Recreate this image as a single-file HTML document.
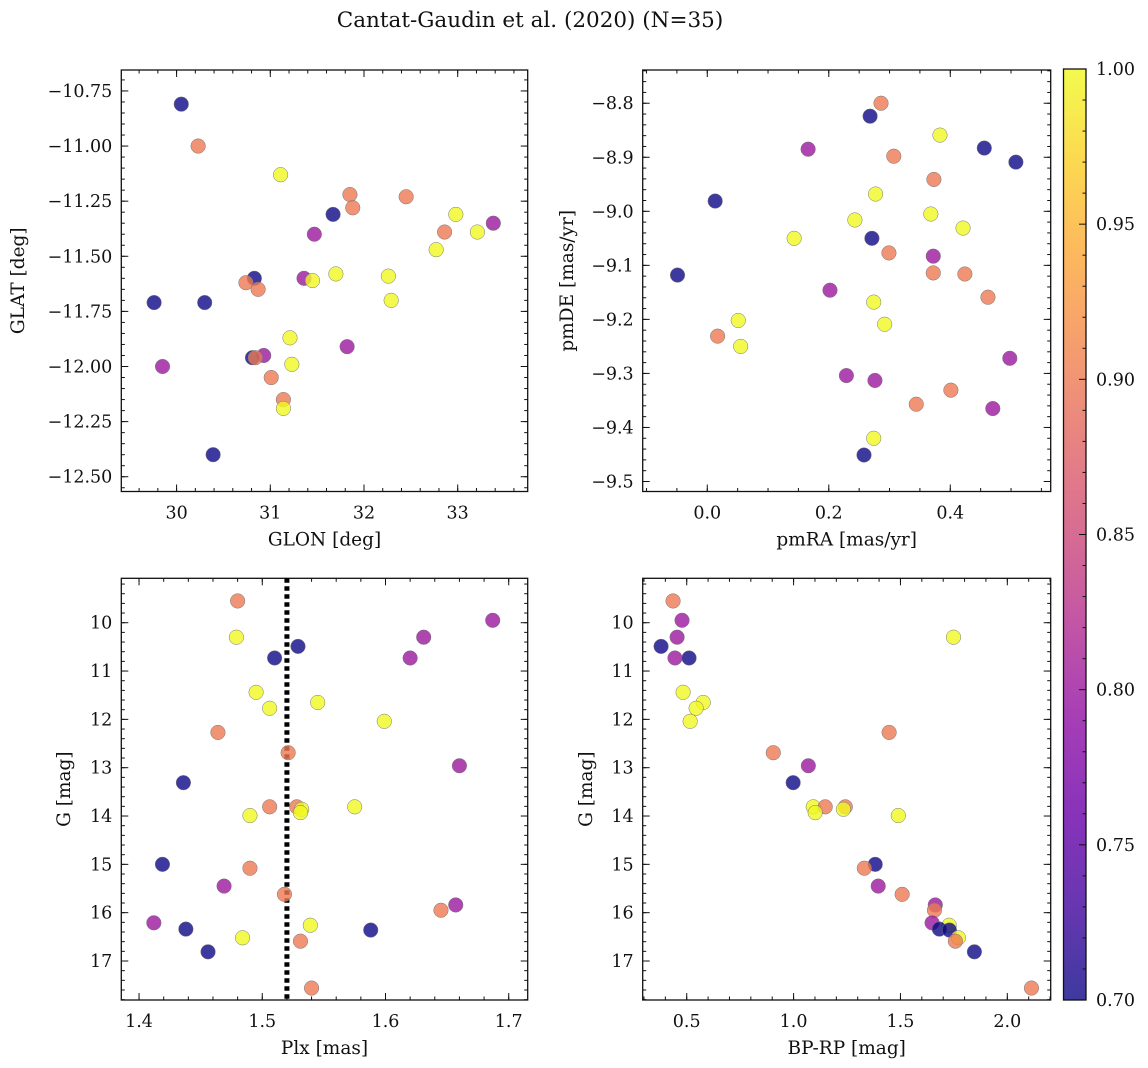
<!DOCTYPE html>
<html><head><meta charset="utf-8"><style>
html,body{margin:0;padding:0;background:#fff;}
svg{display:block;font-family:"DejaVu Serif","Liberation Serif",serif;}
</style></head><body>
<svg id="fig" width="1148" height="1068" viewBox="0 0 1148 1068">
<text x="530" y="27" text-anchor="middle" font-size="21.5" fill="#111">Cantat-Gaudin et al. (2020) (N=35)</text>
</svg>
<script>
// ---- data ----
const glon = [30.05,30.23,31.11,31.85,32.45,31.88,31.67,32.98,33.38,33.21,32.86,31.47,32.77,31.70,32.26,31.36,31.45,30.83,30.74,30.87,29.76,30.30,32.29,31.21,31.82,30.93,30.81,30.84,31.23,29.85,31.01,31.14,31.14,30.39];
const glat = [-10.81,-11.00,-11.13,-11.22,-11.23,-11.28,-11.31,-11.31,-11.35,-11.39,-11.39,-11.40,-11.47,-11.58,-11.59,-11.60,-11.61,-11.60,-11.62,-11.65,-11.71,-11.71,-11.70,-11.87,-11.91,-11.95,-11.96,-11.96,-11.99,-12.00,-12.05,-12.15,-12.19,-12.40];
const probA = [0.7,0.9,1.0,0.9,0.9,0.9,0.7,1.0,0.8,1.0,0.9,0.8,1.0,1.0,1.0,0.8,1.0,0.7,0.9,0.9,0.7,0.7,1.0,1.0,0.8,0.8,0.7,0.9,1.0,0.8,0.9,0.9,1.0,0.7];

const pmra = [0.286,0.268,0.383,0.166,0.456,0.508,0.307,0.373,0.277,0.013,0.243,0.368,0.421,0.143,0.271,0.299,0.372,-0.049,0.372,0.424,0.202,0.462,0.274,0.051,0.292,0.017,0.055,0.498,0.229,0.276,0.401,0.344,0.470,0.274,0.258];
const pmde = [-8.800,-8.824,-8.859,-8.885,-8.883,-8.909,-8.898,-8.941,-8.968,-8.981,-9.016,-9.005,-9.031,-9.050,-9.050,-9.077,-9.083,-9.118,-9.114,-9.116,-9.146,-9.159,-9.168,-9.202,-9.209,-9.231,-9.250,-9.272,-9.304,-9.313,-9.331,-9.357,-9.365,-9.420,-9.451];
const probB = [0.9,0.7,1.0,0.8,0.7,0.7,0.9,0.9,1.0,0.7,1.0,1.0,1.0,1.0,0.7,0.9,0.8,0.7,0.9,0.9,0.8,0.9,1.0,1.0,1.0,0.9,1.0,0.8,0.8,0.8,0.9,0.9,0.8,1.0,0.7];

const plx = [1.480,1.687,1.479,1.631,1.529,1.510,1.620,1.495,1.545,1.506,1.599,1.464,1.521,1.660,1.436,1.506,1.528,1.532,1.575,1.531,1.490,1.419,1.490,1.518,1.469,1.657,1.645,1.539,1.412,1.438,1.588,1.484,1.531,1.456,1.540];
const gmagC = [9.55,9.95,10.30,10.30,10.49,10.73,10.73,11.44,11.65,11.77,12.04,12.27,12.69,12.96,13.31,13.81,13.81,13.86,13.81,13.93,13.99,15.00,15.08,15.62,15.45,15.84,15.95,16.26,16.21,16.34,16.36,16.52,16.59,16.81,17.56];
const probC = [0.9,0.8,1.0,0.8,0.7,0.7,0.8,1.0,1.0,1.0,1.0,0.9,0.9,0.8,0.7,0.9,0.9,1.0,1.0,1.0,1.0,0.7,0.9,0.9,0.8,0.8,0.9,1.0,0.8,0.7,0.7,1.0,0.9,0.7,0.9];
const plxMean = [1.52];

const bprp = [0.436,0.478,0.455,1.748,0.380,0.445,0.511,0.483,0.577,0.544,0.516,1.447,0.905,1.069,0.998,1.092,1.148,1.242,1.233,1.101,1.490,1.382,1.331,1.396,1.508,1.663,1.659,1.648,1.728,1.682,1.729,1.771,1.757,1.846,2.113];
const gmagD = [9.55,9.95,10.30,10.30,10.49,10.73,10.73,11.44,11.65,11.77,12.04,12.27,12.69,12.96,13.31,13.81,13.81,13.81,13.86,13.93,13.99,15.00,15.08,15.45,15.62,15.84,15.95,16.21,16.26,16.34,16.36,16.52,16.59,16.81,17.56];
const probD = [0.9,0.8,0.8,1.0,0.7,0.8,0.7,1.0,1.0,1.0,1.0,0.9,0.9,0.8,0.7,1.0,0.9,0.9,1.0,1.0,1.0,0.7,0.9,0.8,0.9,0.8,0.9,0.8,1.0,0.7,0.7,1.0,0.9,0.7,0.9];

const cbTicks = [0.70,0.75,0.80,0.85,0.90,0.95,1.00];

// ---- helpers ----
const NS = "http://www.w3.org/2000/svg";
const svg = document.getElementById('fig');
const TICKFS = 17.5, LABFS = 18.5;
function mk(tag, attrs, parent){ const e=document.createElementNS(NS,tag); for(const k in attrs) e.setAttribute(k,attrs[k]); (parent||svg).appendChild(e); return e; }
const plasmaStops = ["#0d0887","#41049d","#6a00a8","#8f0da4","#b12a90","#cc4778","#e16462","#f2844b","#fca636","#fcce25","#f0f921"];
function hex(h){return [parseInt(h.slice(1,3),16),parseInt(h.slice(3,5),16),parseInt(h.slice(5,7),16)];}
function plasma(t){ t=Math.max(0,Math.min(1,t)); const s=t*10, i=Math.min(9,Math.floor(s)), f=s-i; const a=hex(plasmaStops[i]), b=hex(plasmaStops[i+1]); return 'rgb('+a.map((v,k)=>Math.round(v+(b[k]-v)*f)).join(',')+')'; }
function cnorm(p){ return (p-0.7)/0.3; }

function panel(name, box, xd, yd, xMaj, xMin, yMaj, yMin, xFmt, yFmt, xlabel, ylabel, ylabelX){
  const g = mk('g',{});
  
  
  const sx = v => box.x0 + (v-xd[0])/(xd[1]-xd[0])*(box.x1-box.x0);
  const sy = v => box.y0 + (v-yd[0])/(yd[1]-yd[0])*(box.y1-box.y0);
  const tk = mk('g',{stroke:'#111','stroke-width':1},g);
  function ticksX(step, len, labels){
    const start=Math.ceil(Math.min(xd[0],xd[1])/step-1e-6);
    for(let k=start;k*step<=Math.max(xd[0],xd[1])+1e-9;k++){
      const v=k*step, x=sx(v);
      mk('line',{x1:x,x2:x,y1:box.y1,y2:box.y1-len},tk);
      mk('line',{x1:x,x2:x,y1:box.y0,y2:box.y0+len},tk);
      if(labels){ const t=mk('text',{x:x,y:box.y1+27,'text-anchor':'middle','font-size':TICKFS,fill:'#111',stroke:'none'},g); t.textContent=xFmt(v);
        
         }
    }
  }
  function ticksY(step, len, labels){
    const lo=Math.min(yd[0],yd[1]), hi=Math.max(yd[0],yd[1]);
    const start=Math.ceil(lo/step-1e-6);
    for(let k=start;k*step<=hi+1e-9;k++){
      const v=k*step, y=sy(v);
      mk('line',{x1:box.x0,x2:box.x0+len,y1:y,y2:y},tk);
      mk('line',{x1:box.x1,x2:box.x1-len,y1:y,y2:y},tk);
      if(labels){ const t=mk('text',{x:box.x0-9,y:y+6,'text-anchor':'end','font-size':TICKFS,fill:'#111',stroke:'none'},g); t.textContent=yFmt(v);
        
         }
    }
  }
  ticksX(xMin,3.5,false); ticksX(xMaj,7,true);
  ticksY(yMin,3.5,false); ticksY(yMaj,7,true);
  mk('rect',{x:box.x0,y:box.y0,width:box.x1-box.x0,height:box.y1-box.y0,fill:'none',stroke:'#111','stroke-width':1.3},g);
  const xl=mk('text',{x:(box.x0+box.x1)/2,y:box.y1+54,'text-anchor':'middle','font-size':LABFS,fill:'#111'},g); xl.textContent=xlabel;
  
  
  const cy=(box.y0+box.y1)/2;
  const yl=mk('text',{x:ylabelX,y:cy,'text-anchor':'middle','font-size':LABFS,fill:'#111',transform:'rotate(-90 '+ylabelX+' '+cy+')'},g); yl.textContent=ylabel;
  
  
  return {g,sx,sy};
}
function scatter(p, xs, ys, ps){
  const layer = mk('g',{},p.g);
  
  
  for(let i=0;i<xs.length;i++){
    const c=mk('circle',{cx:p.sx(xs[i]),cy:p.sy(ys[i]),r:7.3,fill:plasma(cnorm(ps[i])),'fill-opacity':0.8,stroke:'#777','stroke-width':0.5},layer);
    
    
  }
}
const f2 = v=>(v<0?'\u2212':'')+Math.abs(v).toFixed(2);
const f1 = v=>(v<0?'\u2212':'')+Math.abs(v).toFixed(1);
const f0 = v=>String(Math.round(v));

const A = panel('panel-glon-glat',{x0:121.3,x1:527.7,y0:70,y1:491.5},[29.41,33.747],[-10.655,-12.567],1,0.2,0.25,0.05,f0,f2,'GLON [deg]','GLAT [deg]',24);
scatter(A,glon,glat,probA);
const B = panel('panel-pmra-pmde',{x0:642.7,x1:1050.7,y0:70,y1:491.5},[-0.1063,0.5653],[-8.7385,-9.5185],0.2,0.05,0.1,0.02,f1,f1,'pmRA [mas/yr]','pmDE [mas/yr]',573);
scatter(B,pmra,pmde,probB);
const C = panel('panel-plx-g',{x0:121.3,x1:527.7,y0:578.3,y1:1000},[1.3856,1.7154],[9.081,17.807],0.1,0.02,1,0.2,f1,f0,'Plx [mas]','G [mag]',70);
const ml=mk('line',{x1:C.sx(plxMean[0]),x2:C.sx(plxMean[0]),y1:578.3,y2:1000,stroke:'#000','stroke-width':5,'stroke-dasharray':'4.5 3.5'},C.g);


scatter(C,plx,gmagC,probC);
const D = panel('panel-bprp-g',{x0:642.7,x1:1050.7,y0:578.3,y1:1000},[0.294,2.203],[9.081,17.807],0.5,0.1,1,0.2,f1,f0,'BP-RP [mag]','G [mag]',592);
scatter(D,bprp,gmagD,probD);

// ---- colorbar ----
const cb = mk('g',{});


const defs = mk('defs',{});
const lg = mk('linearGradient',{id:'pg',x1:0,y1:1,x2:0,y2:0},defs);
for(let i=0;i<=20;i++){ mk('stop',{offset:(i/20),'stop-color':plasma(i/20)},lg); }
const cbx0=1063.5, cbx1=1086, cby0=69, cby1=1000;
mk('rect',{x:cbx0,y:cby0,width:cbx1-cbx0,height:cby1-cby0,fill:'url(#pg)','fill-opacity':0.8},cb);
const cs = v => cby1 - (v-0.7)/0.3*(cby1-cby0);
for(let k=70;k<=100;k++){
  const v=k/100, y=cs(v), major=(k%5===0);
  mk('line',{x1:cbx1,x2:cbx1-(major?7:3.5),y1:y,y2:y,stroke:'#111','stroke-width':1},cb);
}
for(const v of cbTicks){
  const t=mk('text',{x:cbx1+10,y:cs(v)+6,'font-size':TICKFS,fill:'#111'},cb); t.textContent=v.toFixed(2);
  
  
}
mk('rect',{x:cbx0,y:cby0,width:cbx1-cbx0,height:cby1-cby0,fill:'none',stroke:'#111','stroke-width':1.3},cb);
</script>
</body></html>
